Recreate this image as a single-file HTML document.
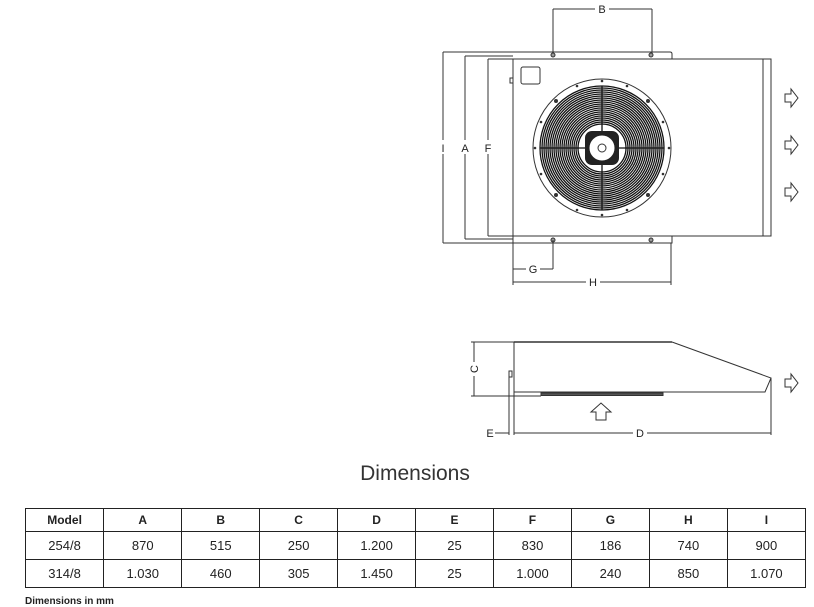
<!DOCTYPE html>
<html><head><meta charset="utf-8"><style>
html,body{margin:0;padding:0;background:#fff;}
body{width:814px;height:606px;position:relative;overflow:hidden;font-family:"Liberation Sans",sans-serif;}
svg{position:absolute;left:0;top:0;}
table{position:absolute;left:25px;top:508px;border-collapse:collapse;width:781px;}
td{border:1px solid #222;text-align:center;font-size:13px;color:#222;width:78px;padding:0;}
tr.h td{height:22px;font-weight:bold;font-size:12px;}
tr.r td{height:27px;}
.foot{position:absolute;left:25px;top:596px;font-size:10px;font-weight:bold;color:#222;}
.title{position:absolute;left:0;width:830px;text-align:center;top:462px;font-size:21px;color:#333;}
</style></head><body>
<svg width="814" height="606" viewBox="0 0 814 606" fill="none" stroke="#333" stroke-width="1">
<line x1="553" y1="9" x2="652" y2="9"/><line x1="553" y1="9" x2="553" y2="55"/><line x1="652" y1="9" x2="652" y2="55"/>
<path d="M443 52 H670 Q672 52 672 54 V243 H443"/>
<line x1="465" y1="56" x2="513" y2="56"/><line x1="465" y1="239" x2="513" y2="239"/>
<line x1="443" y1="52" x2="443" y2="243"/>
<line x1="465" y1="56" x2="465" y2="239"/>
<line x1="488" y1="59" x2="488" y2="236"/>
<line x1="488" y1="59" x2="513" y2="59"/><line x1="488" y1="236" x2="513" y2="236"/>
<rect x="513" y="59" width="250" height="177" fill="#fff"/>
<rect x="763" y="59" width="8" height="177"/>
<circle cx="553" cy="55" r="2" fill="#999"/><circle cx="651" cy="55" r="2" fill="#999"/>
<circle cx="553" cy="240" r="2" fill="#999"/><circle cx="651" cy="240" r="2" fill="#999"/>
<line x1="513" y1="236" x2="513" y2="285"/><line x1="553" y1="240" x2="553" y2="269"/><line x1="671" y1="243" x2="671" y2="285"/>
<line x1="513" y1="269" x2="553" y2="269"/><line x1="513" y1="282" x2="671" y2="282"/>
<rect x="521" y="67" width="19" height="17" rx="2"/>
<rect x="510" y="78" width="3" height="5"/>
<circle cx="602" cy="148" r="69"/>
<g stroke="#111" stroke-width="1.3">
<circle cx="602" cy="148" r="62"/><circle cx="602" cy="148" r="60"/><circle cx="602" cy="148" r="58"/><circle cx="602" cy="148" r="56"/><circle cx="602" cy="148" r="54"/><circle cx="602" cy="148" r="52"/><circle cx="602" cy="148" r="50"/><circle cx="602" cy="148" r="48"/><circle cx="602" cy="148" r="46"/><circle cx="602" cy="148" r="44"/><circle cx="602" cy="148" r="42"/><circle cx="602" cy="148" r="40"/><circle cx="602" cy="148" r="38"/><circle cx="602" cy="148" r="36"/><circle cx="602" cy="148" r="34"/><circle cx="602" cy="148" r="32"/><circle cx="602" cy="148" r="30"/><circle cx="602" cy="148" r="28"/><circle cx="602" cy="148" r="26"/><circle cx="602" cy="148" r="24"/>
<line x1="540" y1="148" x2="664" y2="148"/><line x1="602" y1="86" x2="602" y2="210"/>
</g>
<rect x="585" y="131" width="34" height="34" rx="7" fill="#222" stroke="none"/>
<circle cx="602" cy="148" r="13" fill="#fff" stroke="#222" stroke-width="1"/>
<circle cx="602" cy="148" r="4"/>
<g fill="#333" stroke="none">
<circle cx="602" cy="81" r="1.3"/><circle cx="602" cy="215" r="1.3"/><circle cx="535" cy="148" r="1.3"/><circle cx="669" cy="148" r="1.3"/>
<circle cx="577" cy="86" r="1.3"/><circle cx="627" cy="86" r="1.3"/><circle cx="577" cy="210" r="1.3"/><circle cx="627" cy="210" r="1.3"/>
<circle cx="541" cy="122" r="1.3"/><circle cx="663" cy="122" r="1.3"/><circle cx="541" cy="174" r="1.3"/><circle cx="663" cy="174" r="1.3"/>
<circle cx="556" cy="101" r="2"/><circle cx="648" cy="101" r="2"/><circle cx="556" cy="195" r="2"/><circle cx="648" cy="195" r="2"/>
</g>
<g stroke="#333">
<path d="M785 94 h6 v-5 l7 9 l-7 9 v-5 h-6 z"/>
<path d="M785 141 h6 v-5 l7 9 l-7 9 v-5 h-6 z"/>
<path d="M785 188 h6 v-5 l7 9 l-7 9 v-5 h-6 z"/>
<path d="M785 379 h6 v-5 l7 9 l-7 9 v-5 h-6 z"/>
<path d="M596 412 v8 h10 v-8 h5 l-10 -9 l-10 9 z"/>
</g>
<line x1="514" y1="342" x2="672" y2="342" stroke-width="1.5"/>
<path d="M672 342 L771 378 L765 392 H514 V342"/>
<rect x="541" y="393" width="122" height="2.5" fill="#555"/>
<line x1="471" y1="342" x2="514" y2="342"/><line x1="471" y1="396" x2="541" y2="396"/>
<line x1="474" y1="342" x2="474" y2="396"/>
<line x1="509" y1="372" x2="509" y2="435"/><rect x="509" y="371" width="3" height="6"/>
<line x1="514" y1="392" x2="514" y2="435"/><line x1="771" y1="378" x2="771" y2="435"/>
<line x1="514" y1="433" x2="771" y2="433"/><line x1="495" y1="433" x2="509" y2="433"/>
<g fill="#fff" stroke="none">
<rect x="595" y="3" width="14" height="12"/><rect x="526" y="263" width="14" height="12"/><rect x="586" y="276" width="14" height="12"/>
<rect x="458" y="140" width="14" height="14"/><rect x="481" y="140" width="14" height="14"/><rect x="438" y="140" width="10" height="14"/>
<rect x="468" y="362" width="12" height="14"/><rect x="633" y="427" width="14" height="12"/>
</g>
<g fill="#222" stroke="none" font-family="Liberation Sans, sans-serif" font-size="11" text-anchor="middle">
<text x="602" y="13">B</text><text x="533" y="273">G</text><text x="593" y="286">H</text>
<text x="465" y="152">A</text><text x="488" y="152">F</text><text x="443" y="152">I</text>
<text x="640" y="437">D</text><text x="490" y="437">E</text>
<text x="474" y="369" transform="rotate(-90 474 369)" dy="4">C</text>
</g>
</svg>
<div class="title">Dimensions</div>
<table>
<tr class="h"><td>Model</td><td>A</td><td>B</td><td>C</td><td>D</td><td>E</td><td>F</td><td>G</td><td>H</td><td>I</td></tr>
<tr class="r"><td>254/8</td><td>870</td><td>515</td><td>250</td><td>1.200</td><td>25</td><td>830</td><td>186</td><td>740</td><td>900</td></tr>
<tr class="r"><td>314/8</td><td>1.030</td><td>460</td><td>305</td><td>1.450</td><td>25</td><td>1.000</td><td>240</td><td>850</td><td>1.070</td></tr>
</table>
<div class="foot">Dimensions in mm</div>
</body></html>
